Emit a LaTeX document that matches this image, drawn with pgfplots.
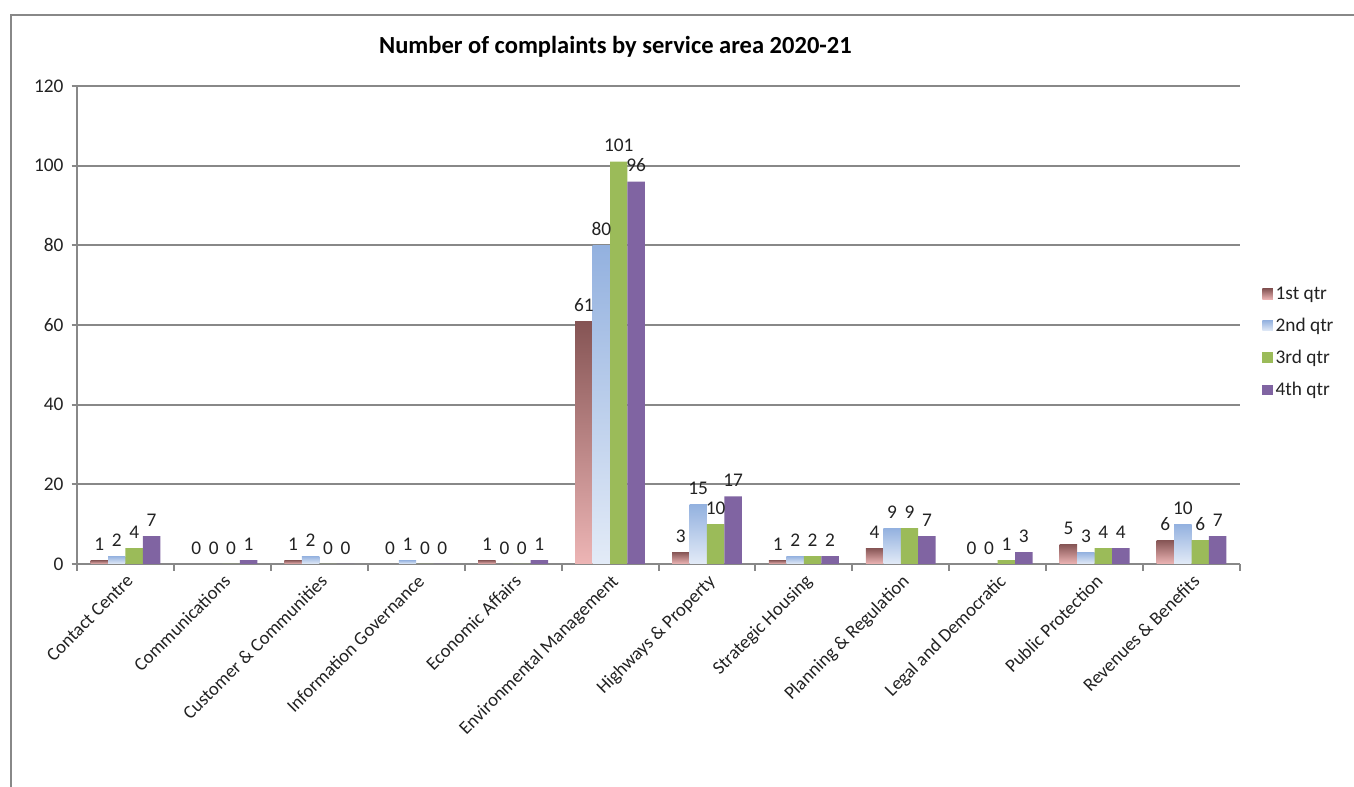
\documentclass[border=0pt]{standalone}
\usepackage{pgfplots}
\usepackage{pgfplotstable}
\pgfplotsset{compat=1.18}
\usepackage{fontspec}
\setmainfont{Carlito}
\definecolor{qOneTop}{HTML}{855454}
\definecolor{qOneBot}{HTML}{EDB5B5}
\definecolor{qTwoTop}{HTML}{93B1DF}
\definecolor{qTwoBot}{HTML}{E3EBF7}
\definecolor{qThree}{HTML}{9BBB59}
\definecolor{qFour}{HTML}{8064A2}
\definecolor{axgray}{HTML}{888888}
\definecolor{txt}{HTML}{222222}
\pgfplotstableread{
x q1 q2 q3 q4
0 1 2 4 7
1 0 0 0 1
2 1 2 0 0
3 0 1 0 0
4 1 0 0 1
5 61 80 101 96
6 3 15 10 17
7 1 2 2 2
8 4 9 9 7
9 0 0 1 3
10 5 3 4 4
11 6 10 6 7
}\datatable
\begin{document}
\begin{tikzpicture}
\useasboundingbox (-57.75pt,-167.25pt) rectangle (957.75pt,423pt);
\draw[axgray, line width=1.5pt] (-49.5pt,-170pt) -- (-49.5pt,411.75pt) -- (960pt,411.75pt);
\begin{axis}[
  at={(0pt,0pt)}, anchor=south west,
  scale only axis, width=872.25pt, height=358.5pt,
  xmin=-0.5, xmax=11.5, ymin=0, ymax=120,
  ytick={0,20,...,120},
  xtick={0,...,11},
  xticklabels={Contact Centre, Communications, Customer \& Communities, Information Governance, Economic Affairs, Environmental Management, Highways \& Property, Strategic Housing, Planning \& Regulation, Legal and Democratic, Public Protection, Revenues \& Benefits},
  minor xtick={-0.5,0.5,...,11.5},
  axis x line*=bottom, axis y line*=left,
  axis line style={axgray, line width=1.5pt, -},
  ymajorgrids, grid style={axgray, line width=1.5pt},
  tick align=outside,
  major tick length=4pt, minor tick length=5pt,
  major x tick style={draw=none},
  minor x tick style={axgray, line width=1.5pt},
  ytick style={axgray, line width=1.5pt},
  tick label style={font=\fontsize{14.5}{17}\selectfont, text=txt},
  /pgf/number format/assume math mode=true,
  xticklabel style={rotate=45, anchor=north east, inner sep=2pt, font=\fontsize{14}{17}\selectfont},
  yticklabel style={inner sep=2pt, xshift=-4pt},
  ybar=0pt, bar width=0.18,
  every node near coord/.append style={font=\fontsize{14.5}{17}\selectfont, text=txt, inner sep=2pt, yshift=5pt},
  legend style={at={(1.0155,0.464)}, anchor=west, draw=none, fill=none, font=\fontsize{14.5}{17}\selectfont, row sep=8.5pt, text=txt},
  legend cell align=left,
  title={Number of complaints by service area 2020-21},
  title style={at={(0.463,1)}, anchor=base, yshift=18pt, font=\fontsize{18.4}{22}\selectfont\bfseries, text=black},
  clip=false,
]
% shaded bars, one plot per bar so each bar gets its own gradient
\pgfplotsinvokeforeach{0,...,11}{
  \addplot[draw=none, bar shift=-0.27, top color=qOneTop, bottom color=qOneBot, forget plot,
    x filter/.expression={x==#1 ? x : nan}, y filter/.expression={y==0 ? nan : y}]
    table[x=x, y=q1] {\datatable};
  \addplot[draw=none, bar shift=-0.09, top color=qTwoTop, bottom color=qTwoBot, forget plot,
    x filter/.expression={x==#1 ? x : nan}, y filter/.expression={y==0 ? nan : y}]
    table[x=x, y=q2] {\datatable};
}
% series carrying labels and legend entries
\addplot[draw=none, fill=none, bar shift=-0.27, nodes near coords,
  legend image code/.code={\path[top color=qOneTop, bottom color=qOneBot] (0pt,-4pt) rectangle (8pt,4pt);}]
  table[x=x, y=q1] {\datatable};
\addlegendentry{1st qtr}
\addplot[draw=none, fill=none, bar shift=-0.09, nodes near coords,
  legend image code/.code={\path[top color=qTwoTop, bottom color=qTwoBot] (0pt,-4pt) rectangle (8pt,4pt);}]
  table[x=x, y=q2] {\datatable};
\addlegendentry{2nd qtr}
\addplot[draw=none, fill=qThree, bar shift=0.09, nodes near coords,
  legend image code/.code={\path[fill=qThree] (0pt,-4pt) rectangle (8pt,4pt);}]
  table[x=x, y=q3] {\datatable};
\addlegendentry{3rd qtr}
\addplot[draw=none, fill=qFour, bar shift=0.27, nodes near coords,
  legend image code/.code={\path[fill=qFour] (0pt,-4pt) rectangle (8pt,4pt);}]
  table[x=x, y=q4] {\datatable};
\addlegendentry{4th qtr}
\end{axis}
\end{tikzpicture}
\end{document}
